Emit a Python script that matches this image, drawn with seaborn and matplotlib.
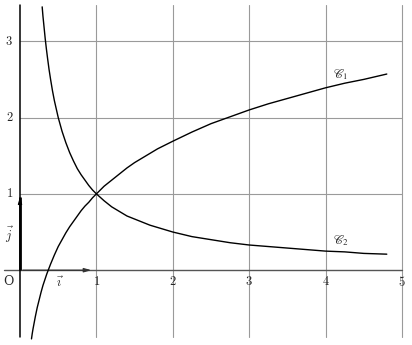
import matplotlib
matplotlib.use("Agg")
import matplotlib.pyplot as plt
import seaborn as sns
import pandas as pd

# Curve C1
c1_x = [0.15, 0.16, 0.17, 0.185, 0.20, 0.225, 0.25, 0.275, 0.30, 0.35, 0.40, 0.45, 0.50, 0.55,
        0.60, 0.65, 0.70, 0.75, 0.80, 0.85, 0.90, 0.95, 1.00, 1.10, 1.20, 1.30, 1.40, 1.50,
        1.60, 1.70, 1.80, 1.90, 2.00, 2.25, 2.50, 2.75, 3.00, 3.25, 3.50, 3.75, 4.00,
        4.25, 4.50, 4.80]
c1_y = [-0.90, -0.83, -0.77, -0.69, -0.61, -0.49, -0.39, -0.29, -0.20, -0.05, 0.08, 0.20,
        0.31, 0.40, 0.49, 0.57, 0.64, 0.71, 0.78, 0.84, 0.89, 0.95, 1.00, 1.10, 1.18, 1.26,
        1.34, 1.41, 1.47, 1.53, 1.59, 1.64, 1.69, 1.81, 1.92, 2.01, 2.10, 2.18, 2.25, 2.32,
        2.39, 2.45, 2.50, 2.57]
# Curve C2
c2_x = [0.29, 0.30, 0.31, 0.32, 0.33, 0.345, 0.36, 0.38, 0.40, 0.425, 0.45, 0.475, 0.50,
        0.55, 0.60, 0.65, 0.70, 0.75, 0.80, 0.85, 0.90, 0.95, 1.00, 1.10, 1.20, 1.30, 1.40,
        1.50, 1.60, 1.70, 1.80, 1.90, 2.00, 2.25, 2.50, 2.75, 3.00, 3.25, 3.50, 3.75, 4.00,
        4.25, 4.50, 4.80]
c2_y = [3.45, 3.33, 3.23, 3.13, 3.03, 2.90, 2.78, 2.63, 2.50, 2.35, 2.22, 2.11, 2.00,
        1.82, 1.67, 1.54, 1.43, 1.33, 1.25, 1.18, 1.11, 1.05, 1.00, 0.91, 0.83, 0.77, 0.71,
        0.67, 0.63, 0.59, 0.56, 0.53, 0.50, 0.44, 0.40, 0.36, 0.33, 0.31, 0.29, 0.27, 0.25,
        0.24, 0.22, 0.21]

x_ticks = [1, 2, 3, 4, 5]
x_tick_labels = ["1", "2", "3", "4", "5"]
y_ticks = [1, 2, 3]
y_tick_labels = ["1", "2", "3"]

sns.set_theme(style="white")
plt.rcParams["mathtext.fontset"] = "cm"
plt.rcParams["font.family"] = ["DejaVu Serif"]

fig = plt.figure(figsize=(4.12, 3.45), dpi=100)
ax = fig.add_axes([0, 0, 1, 1])
ax.axis("off")

ytop, ybot = 3.48, -0.88
grid_c = "#9a9a9a"
for xv in x_ticks:
    ax.plot([xv, xv], [ybot, ytop], color=grid_c, lw=0.8, zorder=1)
for yv in y_ticks:
    ax.plot([0, 5], [yv, yv], color=grid_c, lw=0.8, zorder=1)

# axes
ax.plot([-0.21, 5], [0, 0], color="#555555", lw=1.0, zorder=2)
ax.plot([0, 0], [ybot, ytop], color="black", lw=1.1, zorder=2)

# unit vectors
ax.plot([0, 0], [0, 0.96], color="black", lw=2.0, solid_capstyle="butt", zorder=3)
ax.annotate("", xy=(0, 1.0), xytext=(0, 0.9),
            arrowprops=dict(arrowstyle="-|>,head_length=0.35,head_width=0.1", color="black", lw=0.8),
            zorder=3)
ax.annotate("", xy=(0.97, 0), xytext=(0, 0),
            arrowprops=dict(arrowstyle="-|>,head_length=0.35,head_width=0.1", color="#333333", lw=0.9),
            zorder=3)

df1 = pd.DataFrame({"x": c1_x, "y": c1_y})
df2 = pd.DataFrame({"x": c2_x, "y": c2_y})
sns.lineplot(data=df1, x="x", y="y", ax=ax, color="black", lw=1.0, estimator=None, sort=False, zorder=4)
sns.lineplot(data=df2, x="x", y="y", ax=ax, color="black", lw=1.0, estimator=None, sort=False, zorder=4)
ax.set_xlim(-0.262, 5.13)
ax.set_ylim(-0.98, 3.54)

fs = 9
for xv, lab in zip(x_ticks, x_tick_labels):
    ax.text(xv, -0.06, "$" + lab + "$", ha="center", va="top", fontsize=fs)
for yv, lab in zip(y_ticks, y_tick_labels):
    ax.text(-0.14, yv, "$" + lab + "$", ha="center", va="center", fontsize=fs)
ax.text(-0.15, -0.06, "O", ha="center", va="top", fontsize=fs, family=["DejaVu Serif"])
ax.text(-0.15, 0.46, r"$\vec{j}$", ha="center", va="center", fontsize=fs)
ax.text(0.52, -0.08, r"$\vec{\imath}$", ha="center", va="top", fontsize=fs)
ax.text(4.20, 2.56, r"$\mathscr{C}_1$", ha="center", va="center", fontsize=fs, math_fontfamily="stix")
ax.text(4.20, 0.39, r"$\mathscr{C}_2$", ha="center", va="center", fontsize=fs, math_fontfamily="stix")

fig.savefig("out.png", dpi=100)
